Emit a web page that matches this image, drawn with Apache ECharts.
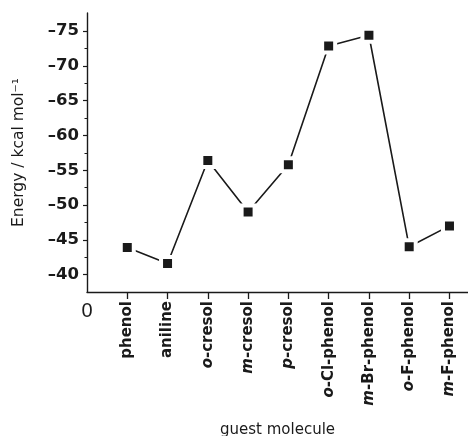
<!DOCTYPE html>
<html>
<head>
<meta charset="utf-8">
<script src="https://cdn.jsdelivr.net/npm/echarts@6/dist/echarts.min.js"></script>
<style>html,body{margin:0;padding:0;background:#fff}#c{width:468px;height:436px}</style>
</head>
<body>
<div id="c"></div>
<script>
var categories = [
  ['', 'phenol'], ['', 'aniline'], ['o', '-cresol'], ['m', '-cresol'], ['p', '-cresol'],
  ['o', '-Cl-phenol'], ['m', '-Br-phenol'], ['o', '-F-phenol'], ['m', '-F-phenol']
];
var energies = [-43.9, -41.6, -56.4, -49.0, -55.8, -72.85, -74.4, -44.0, -47.0];
var yTickValues = [-75, -70, -65, -60, -55, -50, -45, -40];
var yMinorValues = [-72.5, -67.5, -62.5, -57.5, -52.5, -47.5, -42.5];
var xTickValues = [1, 2, 3, 4, 5, 6, 7, 8, 9];

var ink = '#1a1a1a';
var data = energies.map(function (v, i) { return [i + 1, v]; });

var chart = echarts.init(document.getElementById('c'), null, {renderer: 'canvas'});
chart.setOption({
  animation: false,
  backgroundColor: '#fff',
  grid: {left: 87, top: 13, right: 0, bottom: 144, containLabel: false, outerBoundsMode: 'none'},
  xAxis: [{
    type: 'value', min: 0, max: 9.46,
    splitLine: {show: false},
    axisLine: {show: true, lineStyle: {color: ink, width: 1.4}},
    axisTick: {show: true, customValues: xTickValues, length: 7, lineStyle: {color: ink, width: 1.3}},
    axisLabel: {
      show: true, customValues: xTickValues, rotate: 90, margin: 9,
      fontFamily: 'DejaVu Sans', fontWeight: 'bold', fontSize: 15, color: ink,
      formatter: function (v) {
        var c = categories[Math.round(v) - 1];
        if (!c) return '';
        return (c[0] ? '{i|' + c[0] + '}' : '') + '{b|' + c[1] + '}';
      },
      rich: {
        i: {fontFamily: 'DejaVu Sans', fontWeight: 'bold', fontStyle: 'italic', fontSize: 15, color: ink},
        b: {fontFamily: 'DejaVu Sans', fontWeight: 'bold', fontSize: 15, color: ink}
      }
    },
    name: 'guest molecule', nameLocation: 'middle', nameGap: 131,
    nameTextStyle: {fontFamily: 'DejaVu Sans', fontSize: 15, color: ink}
  }, {
    type: 'value', min: 0, max: 9.46, position: 'bottom',
    splitLine: {show: false}, axisLine: {show: false}, axisTick: {show: false},
    axisLabel: {show: true, customValues: [0], margin: 9,
      fontFamily: 'Liberation Sans', fontSize: 20, color: ink,
      formatter: function (v) { return String(v); }}
  }],
  yAxis: [{
    type: 'value', inverse: true, min: -77.6, max: -37.5,
    splitLine: {show: false},
    axisLine: {show: true, lineStyle: {color: ink, width: 1.4}},
    axisTick: {show: true, customValues: yTickValues, length: 4, lineStyle: {color: ink, width: 1.2}},
    axisLabel: {show: true, customValues: yTickValues, margin: 8,
      fontFamily: 'DejaVu Sans', fontWeight: 'bold', fontSize: 16.5, color: ink,
      formatter: function (v) { return '\u2013' + Math.abs(v); }},
    name: 'Energy / kcal mol\u207B\u00B9', nameLocation: 'middle', nameGap: 60,
    nameTextStyle: {fontFamily: 'DejaVu Sans', fontSize: 15.5, color: ink}
  }, {
    type: 'value', inverse: true, min: -77.6, max: -37.5, position: 'left',
    splitLine: {show: false}, axisLine: {show: false},
    axisTick: {show: true, customValues: yMinorValues, length: 2.5, lineStyle: {color: ink, width: 1}},
    axisLabel: {show: false}
  }],
  series: [{
    type: 'line', xAxisIndex: 0, yAxisIndex: 0, data: data,
    symbol: 'rect', symbolSize: 13,
    lineStyle: {color: ink, width: 1.6},
    itemStyle: {color: ink, borderColor: '#fff', borderWidth: 4},
    emphasis: {disabled: true}
  }]
});
</script>
</body>
</html>
